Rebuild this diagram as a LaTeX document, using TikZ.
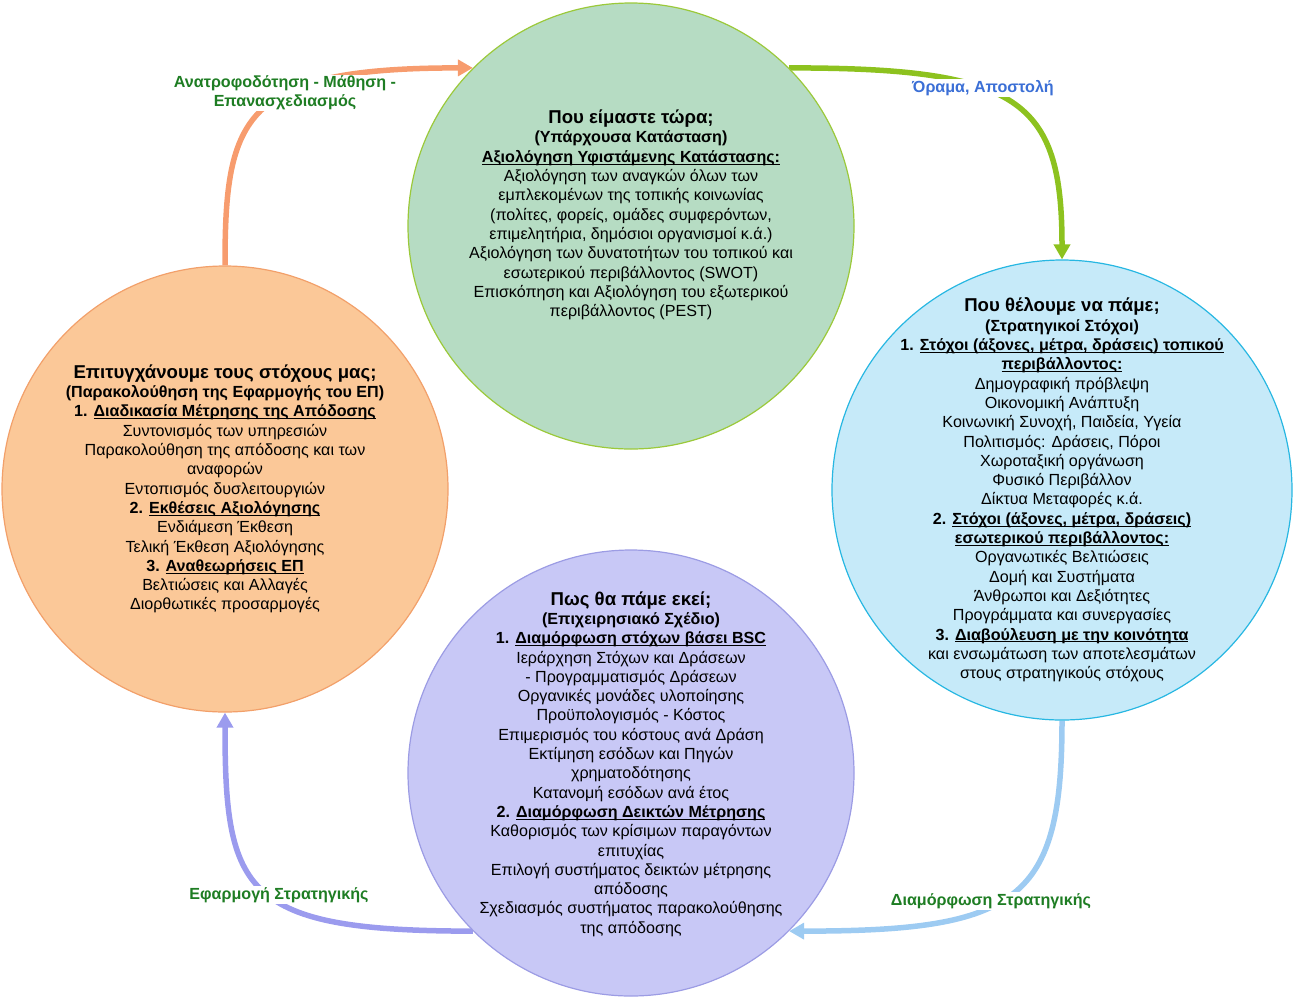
\documentclass[tikz,border=0pt]{standalone}
\usepackage{fontspec}
\setmainfont{Liberation Sans}
\usetikzlibrary{arrows.meta,backgrounds}
\definecolor{nowfill}{HTML}{B6DCC3}
\definecolor{nowline}{HTML}{9BC93A}
\definecolor{goalfill}{HTML}{C6EAF9}
\definecolor{goalline}{HTML}{27B7E2}
\definecolor{planfill}{HTML}{C8C8F6}
\definecolor{planline}{HTML}{9C9CE4}
\definecolor{achfill}{HTML}{FBC898}
\definecolor{achline}{HTML}{F2A06A}
\definecolor{arrorange}{HTML}{F79C6E}
\definecolor{arrgreen}{HTML}{8DC21F}
\definecolor{arrsky}{HTML}{9DCBF2}
\definecolor{arrlilac}{HTML}{9B9BEE}
\definecolor{lblgreen}{HTML}{1E7D23}
\definecolor{lblblue}{HTML}{3B6FD6}
\newcommand{\ttl}[1]{{\fontsize{18.6}{19.3}\selectfont\bfseries #1}}
\newcommand{\uln}[1]{\setbox0\hbox{#1}\rlap{\rule[-2.4pt]{\wd0}{1pt}}\box0}
\tikzset{
  >={Triangle[length=15pt,width=16pt]},
  % κύκλοι
  phase/.style={circle,inner sep=0pt,minimum size=446pt,line width=1.2pt},
  ptxt/.style={align=center,inner sep=0pt,font=\fontsize{16.1}{19.3}\selectfont},
  % βέλη
  cyc/.style={->,line width=5.5pt},
  cl/.style={font=\fontsize{16.1}{19}\selectfont\bfseries,align=center,
             fill=white,inner sep=1pt,text=lblgreen},
}
\begin{document}
\begin{tikzpicture}[x=1pt,y=-1pt]
\useasboundingbox (0,0) rectangle (1308,997);
  \node[phase,fill=nowfill,draw=nowline] (now) at (631,226) {};
  \node[phase,fill=goalfill,draw=goalline,minimum size=460pt] (goal) at (1062,490) {};
  \node[phase,fill=planfill,draw=planline] (plan) at (631,773) {};
  \node[phase,fill=achfill,draw=achline] (ach) at (225,489) {};

  \node[ptxt] (nowt) at (now.center) [yshift=11pt] {\ttl{Που είμαστε τώρα;}\\
    \textbf{(Υπάρχουσα Κατάσταση)}\\
    \textbf{\uln{Αξιολόγηση Υφιστάμενης Κατάστασης:}}\\
    Αξιολόγηση των αναγκών όλων των\\
    εμπλεκομένων της τοπικής κοινωνίας\\
    (πολίτες, φορείς, ομάδες συμφερόντων,\\
    επιμελητήρια, δημόσιοι οργανισμοί κ.ά.)\\
    Αξιολόγηση των δυνατοτήτων του τοπικού και\\
    εσωτερικού περιβάλλοντος (SWOT)\\
    Επισκόπηση και Αξιολόγηση του εξωτερικού\\
    περιβάλλοντος (PEST)};
  \node[ptxt] (goalt) at (goal.center) {\ttl{Που θέλουμε να πάμε;}\\
    \textbf{(Στρατηγικοί Στόχοι)}\\
    \textbf{1. \uln{Στόχοι (άξονες, μέτρα, δράσεις) τοπικού}}\\
    \textbf{\uln{περιβάλλοντος:}}\\
    Δημογραφική πρόβλεψη\\
    Οικονομική Ανάπτυξη\\
    Κοινωνική Συνοχή, Παιδεία, Υγεία\\
    Πολιτισμός: Δράσεις, Πόροι\\
    Χωροταξική οργάνωση\\
    Φυσικό Περιβάλλον\\
    Δίκτυα Μεταφορές κ.ά.\\
    \textbf{2. \uln{Στόχοι (άξονες, μέτρα, δράσεις)}}\\
    \textbf{\uln{εσωτερικού περιβάλλοντος:}}\\
    Οργανωτικές Βελτιώσεις\\
    Δομή και Συστήματα\\
    Άνθρωποι και Δεξιότητες\\
    Προγράμματα και συνεργασίες\\
    \textbf{3. \uln{Διαβούλευση με την κοινότητα}}\\
    και ενσωμάτωση των αποτελεσμάτων\\
    στους στρατηγικούς στόχους};
  \node[ptxt] (plant) at (plan.center) [yshift=9pt] {\ttl{Πως θα πάμε εκεί;}\\
    \textbf{(Επιχειρησιακό Σχέδιο)}\\
    \textbf{1. \uln{Διαμόρφωση στόχων βάσει BSC}}\\
    Ιεράρχηση Στόχων και Δράσεων\\
    - Προγραμματισμός Δράσεων\\
    Οργανικές μονάδες υλοποίησης\\
    Προϋπολογισμός - Κόστος\\
    Επιμερισμός του κόστους ανά Δράση\\
    Εκτίμηση εσόδων και Πηγών\\
    χρηματοδότησης\\
    Κατανομή εσόδων ανά έτος\\
    \textbf{2. \uln{Διαμόρφωση Δεικτών Μέτρησης}}\\
    Καθορισμός των κρίσιμων παραγόντων\\
    επιτυχίας\\
    Επιλογή συστήματος δεικτών μέτρησης\\
    απόδοσης\\
    Σχεδιασμός συστήματος παρακολούθησης\\
    της απόδοσης};
  \node[ptxt] (acht) at (ach.center) {\ttl{Επιτυγχάνουμε τους στόχους μας;}\\
    \textbf{(Παρακολούθηση της Εφαρμογής του ΕΠ)}\\
    \textbf{1. \uln{Διαδικασία Μέτρησης της Απόδοσης}}\\
    Συντονισμός των υπηρεσιών\\
    Παρακολούθηση της απόδοσης και των\\
    αναφορών\\
    Εντοπισμός δυσλειτουργιών\\
    \textbf{2. \uln{Εκθέσεις Αξιολόγησης}}\\
    Ενδιάμεση Έκθεση\\
    Τελική Έκθεση Αξιολόγησης\\
    \textbf{3. \uln{Αναθεωρήσεις ΕΠ}}\\
    Βελτιώσεις και Αλλαγές\\
    Διορθωτικές προσαρμογές};

  \begin{scope}[on background layer]
    \draw[cyc,draw=arrorange] (ach.north) .. controls +(0,-150) and +(-230,0) .. (now.135);
    \draw[cyc,draw=arrgreen] (now.45) .. controls +(230,0) and +(0,-160) .. (goal.north);
    \draw[cyc,draw=arrsky] (goal.south) .. controls +(0,180) and +(230,0) .. (plan.-45);
    \draw[cyc,draw=arrlilac] (plan.-135) .. controls +(-230,0) and +(0,180) .. (ach.south);
  \end{scope}

  \node[cl] (fb) at (285,93) {Ανατροφοδότηση - Μάθηση -\\ Επανασχεδιασμός};
  \node[cl,text=lblblue] (vis) at (983,88) {Όραμα, Αποστολή};
  \node[cl] (form) at (991,901) {Διαμόρφωση Στρατηγικής};
  \node[cl] (impl) at (279,895) {Εφαρμογή Στρατηγικής};
\end{tikzpicture}
\end{document}
